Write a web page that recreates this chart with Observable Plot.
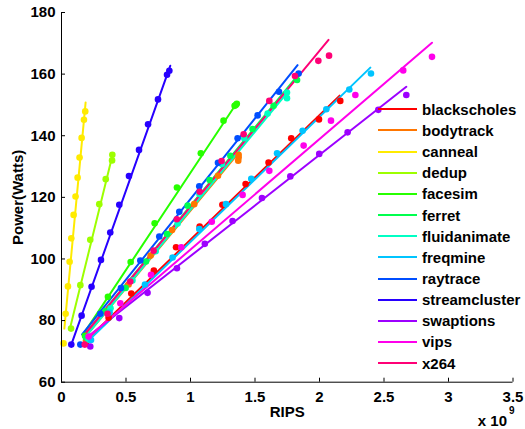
<!DOCTYPE html>
<html>
<head>
<meta charset="utf-8">
<script src="https://cdn.jsdelivr.net/npm/d3@7"></script>
<script src="https://cdn.jsdelivr.net/npm/@observablehq/plot@0.6"></script>
<style>
  html, body { margin: 0; padding: 0; background: #fff; }
  #wrap { position: relative; width: 525px; height: 429px; }
  #legend { position: absolute; left: 378px; top: 98.7px; font-family: "Liberation Sans", Arial, sans-serif; font-weight: bold; font-size: 15px; color: #000; }
  .row { display: flex; align-items: center; height: 21.17px; }
  .sw { width: 39px; height: 2px; margin-right: 5px; }
</style>
</head>
<body>
<div id="wrap"><div id="legend"></div></div>
<script>
const names = ["blackscholes","bodytrack","canneal","dedup","facesim","ferret","fluidanimate","freqmine","raytrace","streamcluster","swaptions","vips","x264"];
const colors = ["#ff0000","#ff7600","#ffeb00","#9dff00","#27ff00","#00ff4e","#00ffc4","#00c4ff","#004eff","#2700ff","#9d00ff","#ff00eb","#ff0076"];

// measured points [RIPS (x1e9), Watts]
const blackscholes = [[0.19,72.4],[0.365,80.9],[0.541,88.8],[0.716,96.2],[0.888,103.8],[1.071,110.5],[1.247,117.6],[1.427,124.3],[1.605,131.3],[1.781,139.2],[1.996,145.3],[2.161,151.3]];
const bodytrack = [[0.19,73.5],[0.353,83.2],[0.52,91.7],[0.691,101.1],[0.857,109.4],[1.029,117.8],[1.213,127.0],[1.373,133.8],[1.373,132.9],[1.37,131.9]];
const canneal = [[0.016,72.6],[0.032,82.2],[0.05,91.1],[0.063,99.1],[0.076,106.7],[0.094,114.3],[0.109,120.3],[0.125,126.4],[0.14,132.9],[0.156,139.3],[0.174,145.2],[0.184,147.9]];
const dedup = [[0.074,77.4],[0.146,91.5],[0.223,106.2],[0.293,117.8],[0.343,125.9],[0.392,132.0],[0.394,133.8]];
const facesim = [[0.182,75.1],[0.36,87.7],[0.536,99.0],[0.722,111.6],[0.895,123.2],[1.08,134.3],[1.256,144.9],[1.342,149.7],[1.351,150.0],[1.359,150.4]];
const ferret = [[0.19,74.5],[0.34,83.0],[0.497,90.6],[0.655,99.2],[0.818,108.1],[0.978,117.3],[1.148,125.6],[1.309,133.5],[1.481,142.2],[1.644,149.7],[1.826,158.1]];
const fluidanimate = [[0.21,73.8],[0.38,84.0],[0.55,93.0],[0.73,102.5],[0.9,111.5],[1.07,121.0],[1.244,130.8],[1.417,139.2],[1.598,147.2],[1.748,152.2],[1.748,154.0]];
const freqmine = [[0.229,73.7],[0.373,82.6],[0.647,91.7],[0.861,100.5],[1.068,109.7],[1.275,117.8],[1.471,126.0],[1.671,134.3],[1.869,141.6],[2.053,148.6],[2.231,155.0],[2.399,160.2]];
const raytrace = [[0.146,72.2],[0.301,82.2],[0.461,90.6],[0.611,99.5],[0.758,107.3],[0.913,115.3],[1.068,123.6],[1.213,131.2],[1.365,139.2],[1.52,146.6],[1.686,154.3],[1.838,160.2]];
const streamcluster = [[0.076,72.2],[0.156,81.6],[0.233,91.0],[0.306,99.7],[0.378,108.6],[0.448,117.6],[0.523,126.9],[0.601,135.4],[0.671,143.7],[0.748,151.8],[0.818,159.8],[0.836,161.1]];
const swaptions = [[0.223,71.6],[0.448,80.8],[0.667,89.0],[0.895,97.0],[1.111,104.9],[1.326,112.3],[1.554,119.8],[1.774,126.8],[1.998,134.1],[2.218,141.1],[2.456,148.4],[2.673,153.2]];
const vips = [[0.21,74.8],[0.456,85.6],[0.694,94.9],[0.929,103.8],[1.165,112.1],[1.404,120.8],[1.611,128.6],[1.877,136.8],[2.089,144.9],[2.278,153.2],[2.649,161.2],[2.872,165.6]];
const x264 = [[0.18,72.2],[0.357,82.2],[0.533,92.7],[0.714,102.7],[0.894,112.9],[1.071,121.8],[1.241,131.8],[1.412,140.5],[1.611,151.3],[1.81,159.4],[1.991,164.3],[2.074,166.0]];

// fitted lines: start / end
const fitX0 = [0.19,0.18,0.022,0.068,0.171,0.18,0.19,0.21,0.16,0.076,0.198,0.19,0.17];
const fitY0 = [73.5,74.5,77.4,77.8,75.7,75.5,75.0,73.5,75.5,72.2,74.6,74.0,75.0];
const fitX1 = [2.156,1.375,0.187,0.396,1.355,1.83,1.75,2.394,1.83,0.843,2.673,2.872,2.07];
const fitY1 = [153.0,134.5,150.8,133.8,150.4,159.5,154.0,162.1,162.9,162.7,155.9,170.2,171.1];

const xTicks = [0,0.5,1,1.5,2,2.5,3,3.5];
const xTickLabels = ["0","0.5","1","1.5","2","2.5","3","3.5"];
const yTicks = [60,80,100,120,140,160,180];

const seriesPoints = [blackscholes,bodytrack,canneal,dedup,facesim,ferret,fluidanimate,freqmine,raytrace,streamcluster,swaptions,vips,x264];
const pts = names.flatMap((n,i) => seriesPoints[i].map(([x,y]) => ({name:n, x, y})));
const fits = names.flatMap((n,i) => [{name:n, x:fitX0[i], y:fitY0[i]}, {name:n, x:fitX1[i], y:fitY1[i]}]);

const chart = Plot.plot({
  width: 525, height: 429,
  marginLeft: 61, marginRight: 12.5, marginTop: 12, marginBottom: 47.3,
  style: {fontFamily: "'Liberation Sans', Arial, sans-serif", fontSize: "15px", fontWeight: "bold", color: "#000", background: "#fff"},
  x: {domain: [0, 3.5]},
  y: {domain: [60, 180]},
  color: {domain: names, range: colors},
  marks: [
    Plot.line(fits, {x: "x", y: "y", z: "name", stroke: "name", strokeWidth: 2}),
    Plot.dot(pts, {x: "x", y: "y", fill: "name", r: 3.3}),
    Plot.ruleX([0], {stroke: "#000", strokeWidth: 1}),
    Plot.ruleY([60], {stroke: "#000", strokeWidth: 1}),
    Plot.axisX({ticks: xTicks, tickSize: 0, tickPadding: 9, tickFormat: d => xTickLabels[xTicks.indexOf(d)], label: null}),
    Plot.axisX({ticks: xTicks, tickSize: -4, tickFormat: () => "", label: null}),
    Plot.axisY({ticks: yTicks, tickSize: 0, tickPadding: 6, label: null}),
    Plot.axisY({ticks: yTicks, tickSize: -4, tickFormat: () => "", label: null}),
    Plot.text(["Power(Watts)"], {text: d => d, frameAnchor: "left", dx: -43, rotate: -90, textAnchor: "middle", lineAnchor: "middle"}),
    Plot.text(["RIPS"], {text: d => d, frameAnchor: "bottom", dy: 29.5, textAnchor: "middle", lineAnchor: "middle"}),
    Plot.text(["x 10"], {text: d => d, frameAnchor: "bottom-right", textAnchor: "end", lineAnchor: "middle", dx: -6, dy: 38.5}),
    Plot.text(["9"], {text: d => d, frameAnchor: "bottom-right", textAnchor: "start", lineAnchor: "middle", dx: -4, dy: 28.5, fontSize: 10})
  ]
});
const wrap = document.getElementById("wrap");
wrap.insertBefore(chart, wrap.firstChild);

const legend = document.getElementById("legend");
names.forEach((n, i) => {
  const row = document.createElement("div");
  row.className = "row";
  const sw = document.createElement("span");
  sw.className = "sw";
  sw.style.background = colors[i];
  const t = document.createElement("span");
  t.textContent = n;
  row.appendChild(sw); row.appendChild(t);
  legend.appendChild(row);
});
</script>
</body>
</html>
